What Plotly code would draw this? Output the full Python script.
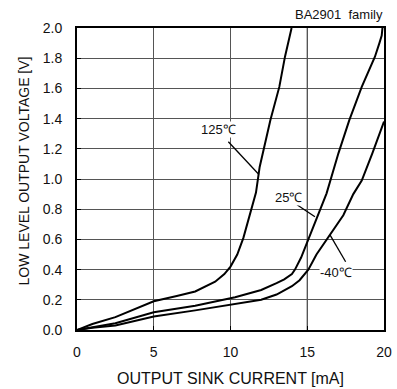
import plotly.graph_objects as go

# OUTPUT SINK CURRENT [mA] vs LOW LEVEL OUTPUT VOLTAGE [V]
i_125 = [0, 1, 2.5, 5, 6.5, 7.7, 9.0, 9.6, 10.0, 10.2, 10.44, 10.84, 11.23, 11.5, 11.66, 11.9, 12.6, 13.18, 13.55, 13.98]
v_125 = [0, 0.04, 0.085, 0.19, 0.225, 0.255, 0.32, 0.37, 0.42, 0.46, 0.50, 0.61, 0.75, 0.86, 0.91, 1.08, 1.39, 1.61, 1.81, 2.0]

i_25 = [0, 1, 2.5, 5, 7.7, 10.3, 11, 12, 13, 13.5, 14, 14.2, 14.6, 15.07, 15.5, 15.94, 16.26, 17.03, 17.74, 18.55, 19.41, 19.7, 19.85, 19.9]
v_25 = [0, 0.02, 0.045, 0.118, 0.16, 0.217, 0.235, 0.265, 0.31, 0.335, 0.37, 0.40, 0.48, 0.60, 0.71, 0.82, 0.905, 1.17, 1.39, 1.61, 1.81, 1.9, 1.95, 2.0]

i_m40 = [0, 1, 2.5, 5, 7.7, 10.3, 11, 12, 13, 14, 14.5, 15.07, 15.6, 16.27, 16.5, 17.35, 18.0, 18.55, 19.24, 20]
v_m40 = [0, 0.015, 0.03, 0.09, 0.13, 0.173, 0.18, 0.20, 0.235, 0.29, 0.33, 0.40, 0.50, 0.60, 0.63, 0.76, 0.90, 0.99, 1.17, 1.38]

x_ticks = [0, 5, 10, 15, 20]
y_ticks = [0.0, 0.2, 0.4, 0.6, 0.8, 1.0, 1.2, 1.4, 1.6, 1.8, 2.0]
y_tick_text = ["0.0", "0.2", "0.4", "0.6", "0.8", "1.0", "1.2", "1.4", "1.6", "1.8", "2.0"]

labels = ["125℃", "25℃", "-40℃"]
label_pos = [(9.25, 1.325), (13.75, 0.88), (16.87, 0.384)]
leaders = [((9.86, 1.247), (11.85, 1.03)), ((14.33, 0.83), (15.5, 0.75)), ((17.5, 0.452), (16.48, 0.63))]

FONT = "Liberation Sans, Arial, sans-serif"

fig = go.Figure()
for xs, ys in [(i_125, v_125), (i_25, v_25), (i_m40, v_m40)]:
    fig.add_trace(go.Scatter(x=xs, y=ys, mode="lines",
                             line=dict(color="black", width=2), showlegend=False,
                             hoverinfo="skip"))

fig.update_layout(
    width=397, height=389,
    margin=dict(l=77, r=13, t=28, b=59),
    paper_bgcolor="white", plot_bgcolor="white",
    font=dict(family=FONT, color="#111", size=14),
    xaxis=dict(range=[0, 20], tickvals=x_ticks, showgrid=True, gridcolor="#555555", gridwidth=1,
               showline=True, linecolor="black", linewidth=2, mirror=True,
               ticks="inside", ticklen=4, tickcolor="black", zeroline=False,
               tickfont=dict(size=14), ticklabelstandoff=8, automargin=False),
    yaxis=dict(range=[0, 2.0], tickvals=y_ticks, ticktext=y_tick_text, showgrid=True,
               gridcolor="#555555", gridwidth=1,
               showline=True, linecolor="black", linewidth=2, mirror=True,
               ticks="inside", ticklen=4, tickcolor="black", zeroline=False,
               tickfont=dict(size=14), ticklabelstandoff=10, automargin=False),
)

# x = 15 gridline appears black in reference
fig.add_shape(type="line", xref="x", yref="paper", x0=15, x1=15, y0=0, y1=1,
              line=dict(color="black", width=1), layer="below")

for txt, (lx, ly) in zip(labels, label_pos):
    fig.add_annotation(x=lx, y=ly, xref="x", yref="y", text=txt, showarrow=False,
                       font=dict(size=13, family=FONT, color="#111"), bgcolor="white",
                       borderpad=0)
for (x0, y0), (x1, y1) in leaders:
    fig.add_shape(type="line", xref="x", yref="y", x0=x0, y0=y0, x1=x1, y1=y1,
                  line=dict(color="black", width=1.3))

fig.add_annotation(x=1.003, y=1.046, xref="paper", yref="paper", xanchor="right", yanchor="middle",
                   text="BA2901  family", showarrow=False, font=dict(size=13, family=FONT, color="#111"))
fig.add_annotation(x=0.5, y=(330 - 378) / 302, xref="paper", yref="paper", xanchor="center", yanchor="middle",
                   text="OUTPUT SINK CURRENT [mA]", showarrow=False, font=dict(size=16, family=FONT, color="#111"))
fig.add_annotation(x=(23.5 - 77) / 307, y=(330 - 171) / 302, xref="paper", yref="paper", xanchor="center", yanchor="middle",
                   text="LOW LEVEL OUTPUT VOLTAGE [V]", textangle=-90, showarrow=False,
                   font=dict(size=14, family=FONT, color="#111"))

fig.write_html("out.html", config={"displayModeBar": False},
               post_script="document.body.style.margin='0';document.body.style.overflow='hidden';")
